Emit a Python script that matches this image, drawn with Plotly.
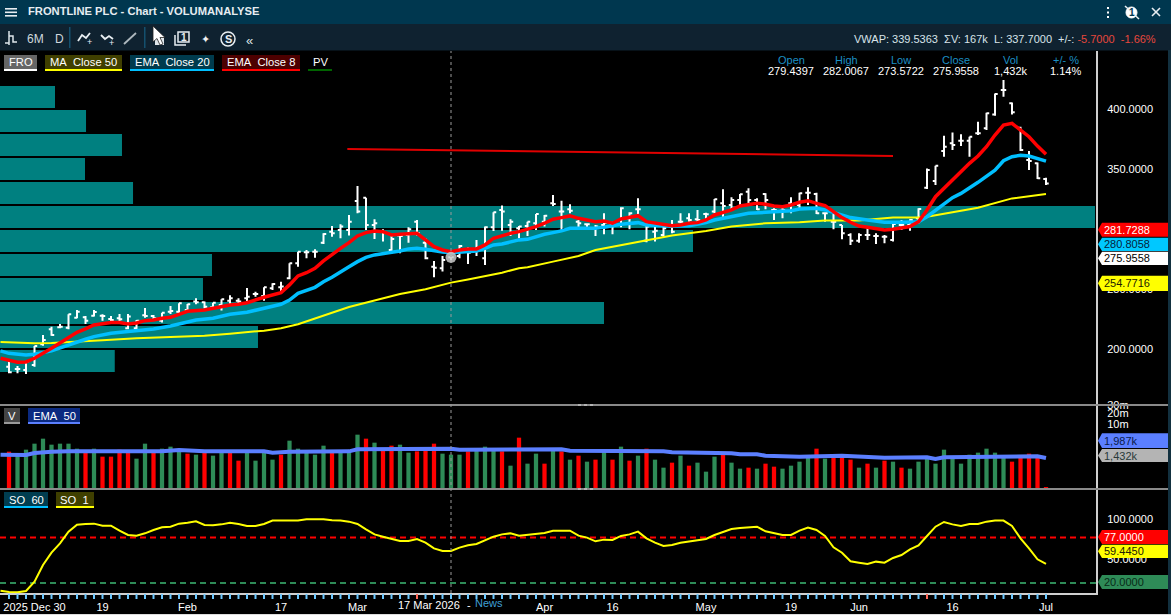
import plotly.graph_objects as go

W, H = 1171, 615
# ---------- data ----------
bar_open = [185.3,183.3,182.5,186.7,203.9,216.4,218.1,217.8,226.1,226.4,227.8,227.8,225.0,225.6,217.3,217.3,228.1,227.5,223.6,231.1,
231.1,232.5,239.5,238.9,234.8,236.7,240.3,240.3,242.3,245.9,244.2,250.6,251.4,258.9,271.4,280.6,281.1,288.6,297.8,299.2,
299.2,323.4,326.1,303.4,298.4,282.5,294.5,295.0,306.1,288.6,268.6,267.3,276.4,277.5,281.1,282.5,275.6,301.4,315.9,303.4,
300.6,302.5,304.8,306.1,321.4,314.5,316.4,306.1,303.9,300.6,303.4,303.4,307.5,308.9,316.4,290.3,297.8,295.0,302.0,306.1,
308.9,308.1,312.5,314.5,321.4,320.0,324.2,331.1,324.2,329.2,315.9,315.3,321.4,320.0,330.3,329.2,313.1,306.1,303.4,295.0,
290.3,295.0,294.2,293.6,290.9,303.4,303.4,308.9,334.4,340.0,365.0,371.4,373.6,373.6,379.7,383.9,395.5,415.8,404.7,384.4,
357.5,354.7,341.6]
bar_high = [190.3,185.9,189.5,202.5,211.7,218.6,220.9,228.9,232.5,227.5,232.5,228.9,227.5,229.2,229.2,224.2,234.2,228.4,230.3,235.9,
238.1,237.5,242.3,239.5,238.6,241.4,244.8,242.3,250.9,247.8,251.4,254.8,256.1,271.4,281.1,282.5,283.1,296.4,302.5,303.9,
311.7,335.9,326.1,308.1,299.8,294.2,296.4,301.4,307.5,292.3,273.4,277.5,279.2,286.7,284.8,290.9,302.0,313.9,319.5,308.1,
302.5,306.1,312.5,311.7,328.4,323.6,320.6,307.5,304.8,303.4,313.1,306.1,318.1,313.9,325.6,304.8,302.0,302.0,307.5,313.1,
313.1,315.9,313.6,325.0,333.1,326.4,329.2,333.9,325.6,329.8,317.3,318.6,326.4,330.3,334.8,330.3,313.6,312.5,303.4,296.4,
296.4,300.6,296.4,295.0,304.8,307.5,308.1,317.3,350.5,352.7,377.7,380.5,378.9,376.9,389.4,396.9,413.0,424.1,405.5,385.2,
365.0,355.5,342.7]
bar_low = [179.8,179.8,179.2,185.3,202.8,211.1,217.3,216.4,225.6,220.9,227.0,223.6,222.8,222.8,216.4,216.4,226.1,224.2,222.0,229.2,
229.8,231.1,237.3,233.9,232.5,232.0,237.3,237.5,240.0,243.6,240.3,249.2,247.8,258.1,268.6,275.6,276.1,287.5,293.6,292.3,
294.5,313.1,299.2,291.7,289.5,281.1,279.8,288.6,294.5,274.8,259.8,264.5,272.0,275.6,270.9,277.5,270.0,298.4,298.6,294.2,
292.3,294.2,299.2,302.0,319.2,298.6,313.1,299.2,299.2,294.2,295.6,295.6,301.4,299.8,311.7,288.9,289.5,293.6,296.4,304.8,
306.1,306.1,304.8,313.1,310.3,316.4,320.0,320.0,315.9,316.4,307.5,308.9,313.1,316.4,320.0,312.5,306.1,299.8,291.4,286.7,
288.6,290.9,287.5,288.1,289.5,299.2,298.6,304.8,333.3,336.6,360.2,365.8,369.1,360.2,378.3,382.5,394.4,410.2,395.5,365.0,
349.1,341.6,336.6]
bar_close = [180.6,183.3,189.5,202.5,207.5,211.7,218.6,228.9,231.1,223.6,230.9,227.5,224.2,224.8,227.0,223.6,227.5,225.6,230.3,231.7,
238.1,237.3,238.9,235.3,238.6,241.4,242.3,239.5,243.6,245.9,251.4,254.2,252.0,271.4,281.1,280.6,281.1,295.9,296.4,302.0,
306.1,314.5,303.4,304.8,297.0,291.7,294.2,299.8,296.4,275.6,267.8,274.2,276.4,285.9,280.3,283.9,301.4,313.9,314.5,306.1,
302.0,306.1,312.5,311.1,320.9,314.5,315.3,304.8,303.9,302.0,305.3,303.4,317.3,313.1,316.4,302.0,298.6,300.6,297.8,306.1,
307.5,307.5,312.3,324.8,319.2,324.2,328.9,324.2,316.4,324.2,315.9,315.9,320.9,329.8,330.3,313.1,313.1,306.1,296.4,290.3,
295.0,295.0,294.2,293.6,304.2,303.4,307.5,316.7,349.1,352.7,368.6,370.0,373.6,376.9,379.7,396.4,412.5,415.8,397.2,365.8,
356.6,342.2,338.0]

volume_k = [2315,2129,2439,2811,3121,2749,2811,2811,2501,2336,2501,2005,2005,2439,2377,1881,2811,2336,2501,2625,
2439,2191,2129,2377,2067,2377,2336,1757,2377,1757,2377,1819,2129,2997,2501,2377,2129,2687,2377,2377,
2377,3369,3121,2873,2542,2687,2749,2253,2336,2439,2811,2191,2129,2129,2336,2439,2625,2439,2336,1447,
3183,1571,2191,1571,2439,2336,1819,2067,1695,1819,2336,1819,2625,1757,2067,2501,1819,1323,1633,2067,
1447,1633,1075,2005,2129,1633,1261,1323,1261,1571,1385,1261,1447,1695,1922,2501,1881,2026,2026,1819,
1323,1571,1323,1757,1695,1323,1261,1695,1922,1571,2439,1860,1571,2129,2253,2501,2253,1984,1695,1922,
2191,1984,110]
volume_dir = list("RGGGGGGGGR" "GRRRRGGRGG" "GRGRGGRRGG" "GGRGGGGGRG" "GGRGRRGGRR" "RGGGRGGGRG" "RGGRGRGRGR"
                  "GRGRGRGGRG" "RGGGRGGRGR" "RGGGGRGRRR" "GRGRGRGGGG" "GGGGGGGGRR" "RRR")

ema8_idx = [-1,0,1,2,3,5,7,8,9,10,12,13,14,15,16,17,18,19,20,21,23,24,26,27,28,30,32,33,34,35,36,37,38,39,40,41,42,43,44,45,46,47,48,49,50,51,52,53,54,55,56,57,58,59,60,61,62,63,64,65,66,67,68,69,70,71,72,73,74,75,76,77,78,79,80,81,82,83,84,85,86,87,88,89,90,91,92,93,94,95,96,97,98,99,100,101,102,103,104,105,106,107,108,109,110,111,112,113,114,115,116,117,118,119,120,121,122]
ema8_val = [192.3,190.3,188.9,189.2,192.3,200.6,209.5,213.9,216.7,220.0,222.0,222.0,220.9,221.7,223.6,224.2,225.6,226.4,228.9,231.4,232.5,233.9,236.7,237.3,238.6,243.1,247.0,253.4,260.9,263.6,267.3,273.4,278.9,283.9,288.6,294.2,297.0,298.4,297.8,295.0,295.6,296.1,296.4,290.9,285.3,282.5,281.1,282.5,283.4,283.4,286.7,292.3,294.5,296.4,297.8,299.8,302.0,304.8,308.1,309.5,310.9,308.9,307.5,306.1,306.7,304.8,308.4,309.5,311.1,306.1,304.8,303.9,302.8,303.4,304.8,305.3,307.5,311.7,313.6,315.9,319.2,320.0,321.4,320.6,319.2,318.6,320.0,322.3,323.6,321.4,319.5,314.5,309.5,305.6,302.5,301.4,300.0,299.2,299.8,300.6,302.0,306.1,315.8,326.9,333.9,341.6,347.7,354.7,360.8,368.6,378.3,386.6,388.0,382.5,376.9,369.1,362.2]

ema20_idx = [-1,0,2,3,5,7,8,9,10,12,14,15,17,19,20,22,24,26,28,30,32,33,34,36,37,38,39,40,41,42,43,45,46,47,48,49,50,51,52,53,55,56,57,58,59,60,61,62,63,64,65,66,67,69,70,72,74,75,77,78,80,82,83,85,87,89,91,92,93,95,96,97,99,101,103,105,107,108,110,111,112,114,116,117,118,119,120,121,122]
ema20_val = [198.4,196.4,195.0,195.6,198.4,203.4,206.1,208.1,210.3,213.1,214.5,215.3,216.7,219.2,220.9,224.2,225.6,228.9,230.6,233.9,237.3,240.8,246.4,251.4,256.1,259.8,264.5,268.6,272.8,276.4,278.4,280.3,281.7,283.4,283.9,283.1,281.7,280.9,280.3,280.9,281.7,283.9,286.7,287.5,289.5,290.9,291.4,293.6,295.6,297.0,298.4,300.6,300.6,300.6,301.4,303.9,305.3,303.4,302.8,302.5,302.8,305.3,307.5,310.3,313.1,313.9,314.5,315.3,316.7,317.3,315.9,313.9,309.5,307.5,305.6,305.6,306.1,310.2,321.4,326.1,329.7,338.9,349.1,356.9,360.2,361.4,360.8,358.9,356.6]

ma50_idx = [-1,1,3,5,7,11,15,19,23,26,30,32,34,40,46,49,52,54,58,60,61,64,67,69,72,75,78,82,85,89,93,96,100,104,107,108,110,112,114,116,118,122]
ma50_val = [205.9,205.3,204.8,205.0,205.6,207.3,208.9,210.3,211.1,212.8,215.3,217.3,220.6,235.0,245.9,249.8,255.3,258.0,263.6,267.3,268.1,272.8,277.5,282.5,286.7,290.3,294.5,298.4,302.0,304.8,305.6,307.0,307.0,309.5,309.5,310.2,313.0,315.2,317.7,321.4,325.5,329.1]

trend_idx = [39.8,104]
trend_val = [366.7,360.8]

# price (bin centre) and profile length, volume-by-price histogram
profile_price = [190,210,230,250,270,290,310,330,350,370,390,410]
profile_len = [13.5,30.35,71.06,23.88,24.94,81.53,128.82,15.65,10.0,14.35,10.12,6.47]

so_idx = [-1]+list(range(0,123))
so_val = [10.4,8.8,8.3,10.0,21.7,42.5,57.9,69.6,84.2,92.9,93.8,94.2,91.7,91.7,85.4,80.0,79.2,82.1,86.3,89.6,90.4,94.2,95.4,97.1,92.5,92.1,93.3,95.4,93.8,91.3,91.3,93.8,98.0,98.0,98.0,98.0,99.6,99.6,99.6,98.3,98.0,96.7,93.8,87.1,80.8,77.9,75.0,72.5,
72.5,75.0,70.4,63.3,60.0,60.0,64.2,67.1,68.8,73.3,77.9,80.8,82.1,79.2,80.0,81.3,82.5,85.4,85.4,85.4,79.2,76.7,72.1,74.2,73.8,78.8,80.8,84.2,75.8,70.4,66.3,67.5,70.4,71.7,73.8,75.0,80.0,83.3,87.5,88.8,89.6,90.4,84.6,82.1,80.0,80.0,85.4,
89.2,86.3,78.8,64.6,57.9,47.1,45.4,43.8,46.7,45.4,51.3,55.0,62.0,67.1,78.8,90.4,96.3,93.3,91.3,93.8,93.8,96.7,98.0,98.0,91.3,75.8,63.3,49.6,43.8]

volema_idx = [-1,2,3,5,7,18,20,23,30,31,33,40,41,43,44,46,52,53,58,60,65,66,70,71,72,77,78,81,82,85,86,88,89,92,93,98,100,103,108,109,110,115,117,121,122]
volema_val = [2129,2108,2232,2315,2336,2336,2418,2336,2336,2253,2315,2336,2460,2460,2522,2522,2501,2439,2439,2501,2460,2377,2377,2336,2377,2336,2274,2274,2212,2212,2150,2150,2067,2005,2005,2067,2005,1943,1964,1860,1964,1964,2026,2026,1922]

tick_labels = {3:"2025 Dec 30",11:"19",21:"Feb",32:"17",41:"Mar",63:"Apr",71:"16",82:"May",92:"19",100:"Jun",111:"16",122:"Jul"}
vol_axis_labels = {4030:"10m",4712:"20m",5208:"30m"}

# ---------- layout helpers ----------
FONT = "Liberation Sans"
px = lambda x: x / W
py = lambda y: 1 - y / H
shapes, ann = [], []

def rect(x0, y0, x1, y1, color, layer="above"):
    shapes.append(dict(type="rect", xref="paper", yref="paper", x0=px(x0), x1=px(x1), y0=py(y1), y1=py(y0),
                       fillcolor=color, line_width=0, layer=layer))

def path(points, color=None, stroke=None, width=1.5, close=True):
    d = "M " + " L ".join(f"{px(a):.5f},{py(b):.5f}" for a, b in points) + (" Z" if close else "")
    shapes.append(dict(type="path", xref="paper", yref="paper", path=d, fillcolor=color or "rgba(0,0,0,0)",
                       line=dict(color=stroke or "rgba(0,0,0,0)", width=width if stroke else 0), layer="above"))

def text(x, y, s, color="#ffffff", size=11, anchor="left", weight=None):
    ann.append(dict(xref="paper", yref="paper", x=px(x), y=py(y), text=s, showarrow=False, xanchor=anchor, yanchor="middle",
                    font=dict(family=FONT, size=size, color=color, weight=weight), borderpad=0, borderwidth=0))

def chip(x0, x1, y0, label, bg, under):
    rect(x0, y0, x1, y0 + 16, bg)
    rect(x0, y0 + 14, x1, y0 + 16, under)
    text((x0 + x1) / 2, y0 + 7.5, label, size=11.2, anchor="center")

def tag(y0, y1, label, bg, fg):
    ymid = (y0 + y1) / 2
    path([(1098, ymid), (1102, y0), (1168, y0), (1168, y1), (1102, y1)], color=bg)
    text(1104, ymid, label, color=fg, size=11)

# ---------- chrome ----------
rect(0, 0, W, 24, "#00374f", "below")
rect(0, 24, W, 50.5, "#0f2230", "below")
rect(1168, 50, W, H, "#12303f", "above")
rect(0, 614, W, H, "#dddddd", "above")
rect(0, 404, 1168, 406, "#8a8a8a")
rect(0, 488, 1168, 490, "#8a8a8a")
for grip_y in (405, 489):
    shapes.append(dict(type="line", xref="paper", yref="paper", x0=px(578), x1=px(593), y0=py(grip_y), y1=py(grip_y),
                       line=dict(color="#dddddd", width=1, dash="dot"), layer="above"))

for y in (8, 11.5, 15):
    rect(5, y, 17, y + 1.6, "#e8eef2")
text(28, 11.5, "FRONTLINE PLC - Chart - VOLUMANALYSE", color="#e6edf1", size=11.2, weight="bold")
for y in (8, 12.5, 17):
    rect(1107, y - 1, 1109, y + 1, "#ffffff")
shapes.append(dict(type="circle", xref="paper", yref="paper", x0=px(1126), x1=px(1137), y0=py(18), y1=py(7), fillcolor="#ffffff",
                   line=dict(color="#ffffff", width=1), layer="above"))
text(1131.5, 12.5, "1", color="#00374f", size=10, anchor="center", weight="bold")
path([(1125, 6), (1139, 19)], stroke="#e8eef2", width=1.5, close=False)
path([(1152, 8), (1160, 16)], stroke="#e8eef2", width=1.6, close=False)
path([(1160, 8), (1152, 16)], stroke="#e8eef2", width=1.6, close=False)

# toolbar
path([(5, 43), (9, 43), (9, 31), (9, 45)], stroke="#dfe6ea", width=1.5, close=False)
path([(9, 36), (13, 36), (13, 42), (17, 42)], stroke="#dfe6ea", width=1.5, close=False)
text(27, 39.5, "6M", color="#cfd8dd", size=12)
text(55, 39.5, "D", color="#cfd8dd", size=12)
rect(69, 27, 70.5, 48, "#14506e")
rect(144, 27, 145.5, 48, "#14506e")
path([(78, 41), (82, 35), (86, 38), (90, 33)], stroke="#e8eef2", width=1.8, close=False)
text(89, 42.5, "+", color="#e8eef2", size=9, anchor="center")
path([(101, 35), (105, 39), (109, 36), (113, 39)], stroke="#e8eef2", width=1.8, close=False)
text(112, 43, "+", color="#e8eef2", size=9, anchor="center")
path([(124, 44), (136, 33)], stroke="#aeb8be", width=1.8, close=False)
path([(155, 36), (164, 36), (164, 45), (155, 45)], color="#dfe6ea")
path([(175, 35), (175, 45), (186, 45)], stroke="#e8eef2", width=1.5, close=False)
path([(178, 32), (189, 32), (189, 42), (178, 42)], stroke="#e8eef2", width=1.5)
text(183.5, 37, "1", color="#e8eef2", size=10, anchor="center", weight="bold")
text(205, 39, "✦", color="#f0f0f0", size=11, anchor="center")
shapes.append(dict(type="circle", xref="paper", yref="paper", x0=px(221), x1=px(235), y0=py(46), y1=py(32),
                   line=dict(color="#e8eef2", width=1.5), layer="above"))
text(228, 39, "S", color="#e8eef2", size=11, anchor="center", weight="bold")
text(250, 41, "«", color="#dfe6ea", size=13, anchor="center")
path([(153, 26), (153, 42), (157, 38.5), (160, 45), (163, 44), (160, 37.5), (165, 37.5)], color="#ffffff", stroke="#222222", width=0.8)

text(1156, 39, 'VWAP: 339.5363&nbsp;&nbsp;ΣV: 167k&nbsp;&nbsp;L: 337.7000&nbsp;&nbsp;+/-: <span style="color:#e8473c">-5.7000&nbsp;&nbsp;-1.66%</span>',
     color="#d8e4ea", size=11, anchor="right")

# header values
HEAD = "#1c8fc4"
for cx, head, val in [(791, "Open", "279.4397"), (846, "High", "282.0067"), (901, "Low", "273.5722"),
                      (956, "Close", "275.9558"), (1010.5, "Vol", "1,432k"), (1065.5, "+/- %", "1.14%")]:
    text(cx, 60, head, color=HEAD, size=11, anchor="center")
    text(cx, 70.5, val, color="#ffffff", size=11, anchor="center")

# chips
chip(4, 37, 55, "FRO", "#666666", "#ffffff")
chip(45, 122, 55, "MA\u00a0\u00a0Close 50", "#403f00", "#ffff00")
chip(130, 214, 55, "EMA\u00a0\u00a0Close 20", "#003b4d", "#00bfff")
chip(222, 300, 55, "EMA\u00a0\u00a0Close 8", "#4d0000", "#ff0000")
chip(308, 332, 55, "PV", "#000000", "#006400")
chip(4, 20, 408, "V", "#444444", "#999999")
chip(28, 80, 408, "EMA\u00a0\u00a050", "#0b2a80", "#5b7fff")
chip(4, 48, 492, "SO\u00a0\u00a060", "#003d50", "#00bfff")
chip(56, 94, 492, "SO\u00a0\u00a01", "#3f3f00", "#ffff00")

# right tags
tag(222.7, 236.7, "281.7288", "#ff0000", "#ffffff")
tag(237.7, 251, "280.8058", "#00c8ff", "#06233a")
tag(251.7, 265, "275.9558", "#ffffff", "#000000")
tag(275.7, 291, "254.7716", "#ffff00", "#222200")
tag(433.3, 448, "1,987k", "#5b7fff", "#0a1a4a")
tag(449, 462, "1,432k", "#b4b4b4", "#2a3a3a")
tag(530, 544, "77.0000", "#ff0000", "#ffffff")
tag(544.7, 558, "59.4450", "#ffff00", "#222200")
tag(575, 589, "20.0000", "#2e8b57", "#082a18")

text(429, 604.5, "17 Mar 2026", color="#ffffff", size=11, anchor="center")
text(469, 605, "-", color="#ffffff", size=11, anchor="center")
text(475, 603, "News", color="#3f9fd6", size=11)

# ---------- axes and traces ----------
x_lo, x_hi = -9 / 8.5, (1096 - 9) / 8.5
xs = list(range(len(bar_open)))

traces = []
traces.append(go.Bar(orientation="h", y=profile_price, x=profile_len, base=x_lo, width=18.33,
                     marker=dict(color="#008080", line_width=0), xaxis="x", yaxis="y"))
traces.append(go.Ohlc(x=xs, open=bar_open, high=bar_high, low=bar_low, close=bar_close, tickwidth=0.32,
                      increasing=dict(line=dict(color="#ffffff", width=2)),
                      decreasing=dict(line=dict(color="#ffffff", width=2)), xaxis="x", yaxis="y"))
traces.append(go.Scatter(x=ma50_idx, y=ma50_val, mode="lines", line=dict(color="#ffff00", width=2), xaxis="x", yaxis="y"))
traces.append(go.Scatter(x=ema20_idx, y=ema20_val, mode="lines", line=dict(color="#00bfff", width=3.5), xaxis="x", yaxis="y"))
traces.append(go.Scatter(x=ema8_idx, y=ema8_val, mode="lines", line=dict(color="#ff0000", width=3.5), xaxis="x", yaxis="y"))
traces.append(go.Scatter(x=trend_idx, y=trend_val, mode="lines", line=dict(color="#e00000", width=2), xaxis="x", yaxis="y"))
traces.append(go.Scatter(x=[52], y=[bar_close[52]], mode="markers", marker=dict(color="rgba(200,200,200,0.85)", size=11), xaxis="x", yaxis="y"))

traces.append(go.Bar(x=xs, y=volume_k, width=0.5, marker=dict(color=["#ff0000" if d == "R" else "#2e8b57" for d in volume_dir], line_width=0),
                     xaxis="x", yaxis="y2"))
traces.append(go.Scatter(x=volema_idx, y=volema_val, mode="lines", line=dict(color="#5b7fff", width=4), xaxis="x", yaxis="y2"))
traces.append(go.Scatter(x=so_idx, y=so_val, mode="lines", line=dict(color="#ffff00", width=2), xaxis="x", yaxis="y3"))

for level, col in ((77, "#ff0000"), (20, "#2e8b57")):
    shapes.append(dict(type="line", xref="paper", x0=0, x1=1096 / W, yref="y3", y0=level, y1=level,
                       line=dict(color=col, width=2, dash="6px,4px"), layer="between"))
shapes.append(dict(type="line", xref="x", x0=52, x1=52, yref="paper", y0=py(593), y1=py(51),
                   line=dict(color="#9a9a9a", width=1, dash="dot"), layer="above"))
for i in xs:
    shapes.append(dict(type="line", xref="x", x0=i, x1=i, yref="paper", y0=py(599), y1=py(594),
                       line=dict(color="#ff6a5a" if i in (48, 108) else "#6cc8ff", width=2), layer="above"))

yaxis_common = dict(side="right", anchor="x", showgrid=False, zeroline=False, showline=True, linecolor="#cfcfcf", linewidth=2,
                    ticks="", ticklabelstandoff=7, tickfont=dict(family=FONT, size=11, color="#ffffff"), tickmode="array", fixedrange=True)

layout = go.Layout(
    width=W, height=H, autosize=False, margin=dict(l=0, r=0, t=0, b=0, pad=0, autoexpand=False), showlegend=False,
    paper_bgcolor="#000000", plot_bgcolor="#000000", barmode="overlay", shapes=shapes, annotations=ann,
    xaxis=dict(domain=[0, 1096 / W], range=[x_lo, x_hi], anchor="y3", showgrid=False, zeroline=False, showline=True,
               linecolor="#cfcfcf", linewidth=2, ticks="", ticklabelstandoff=3,
               tickmode="array", tickvals=xs, ticktext=[tick_labels.get(i, "") for i in xs], tickangle=0,
               tickfont=dict(family=FONT, size=11, color="#ffffff"), rangeslider=dict(visible=False), fixedrange=True),
    yaxis=dict(domain=[py(405), py(51)], range=[153.33, 448.33], tickvals=[200, 250, 300, 350, 400], tickformat=".4f", **yaxis_common),
    yaxis2=dict(domain=[py(489), py(405)], range=[0, 5208.5], tickvals=list(vol_axis_labels), ticktext=list(vol_axis_labels.values()), **yaxis_common),
    yaxis3=dict(domain=[py(593), py(489)], range=[7.5, 137.5], tickvals=[50, 100], tickformat=".4f", **yaxis_common),
)
fig = go.Figure(data=traces, layout=layout)
fig.write_html("out.html", config=dict(displayModeBar=False),
               post_script="document.body.style.margin='0';document.body.style.background='#000';")
